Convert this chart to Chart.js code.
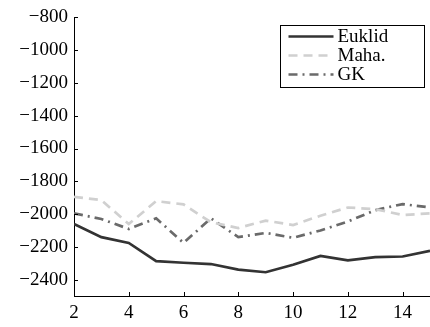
<!DOCTYPE html>
<html>
<head>
<meta charset="utf-8">
<script src="https://cdn.jsdelivr.net/npm/chart.js@4"></script>
<style>
  html, body { margin: 0; padding: 0; background: #fff; }
  #wrap { width: 430px; height: 327px; }
</style>
</head>
<body>
<div id="wrap"><canvas id="chart" width="430" height="327"></canvas></div>
<script>
// data
const xWerte = [2, 3, 4, 5, 6, 7, 8, 9, 10, 11, 12, 13, 14, 15];
const euklid = [-2061, -2141, -2176, -2287, -2297, -2305, -2339, -2355, -2309, -2255, -2283, -2263, -2259, -2224];
const maha = [-1895, -1915, -2061, -1921, -1941, -2050, -2085, -2040, -2067, -2010, -1960, -1970, -2006, -1996];
const gk = [-1996, -2030, -2091, -2026, -2176, -2026, -2141, -2115, -2145, -2100, -2046, -1976, -1939, -1960];
const yTicks = [-2400, -2200, -2000, -1800, -1600, -1400, -1200, -1000, -800];
const xTicks = [2, 4, 6, 8, 10, 12, 14];

const schrift = "'Liberation Serif', 'DejaVu Serif', serif";

function punkte(werte) {
  return werte.map((v, i) => ({ x: xWerte[i], y: v }));
}

// ticks pointing inwards + legend box inside the plot
const achsenPlugin = {
  id: 'achsen',
  afterDraw(chart) {
    const ctx = chart.ctx;
    const xs = chart.scales.x, ys = chart.scales.y;
    const a = chart.chartArea;
    ctx.save();
    ctx.strokeStyle = '#000';
    ctx.lineWidth = 1;
    ctx.beginPath();
    yTicks.forEach(t => {
      const y = Math.round(ys.getPixelForValue(t)) + 0.5;
      ctx.moveTo(a.left, y); ctx.lineTo(a.left + 4, y);
    });
    xTicks.forEach(t => {
      const x = Math.round(xs.getPixelForValue(t)) + 0.5;
      ctx.moveTo(x, a.bottom); ctx.lineTo(x, a.bottom - 4);
    });
    ctx.stroke();

    // legend
    const bx = 280.5, by = 25.5, bw = 144, bh = 62;
    ctx.fillStyle = '#fff';
    ctx.fillRect(bx, by, bw, bh);
    ctx.strokeRect(bx, by, bw, bh);
    ctx.font = '19px ' + schrift;
    ctx.textBaseline = 'middle';
    chart.data.datasets.forEach((ds, i) => {
      const y = by + 11 + i * 19;
      ctx.strokeStyle = ds.borderColor;
      ctx.lineWidth = ds.borderWidth;
      ctx.setLineDash(ds.borderDash || []);
      ctx.beginPath();
      ctx.moveTo(bx + 8, y); ctx.lineTo(bx + 53, y);
      ctx.stroke();
      ctx.setLineDash([]);
      ctx.fillStyle = '#000';
      ctx.fillText(ds.label, bx + 57, y + 1);
    });
    ctx.restore();
  }
};

new Chart(document.getElementById('chart'), {
  type: 'line',
  data: {
    datasets: [
      { label: 'Euklid', data: punkte(euklid), borderColor: '#333333', borderWidth: 2.7, pointRadius: 0, tension: 0 },
      { label: 'Maha.', data: punkte(maha), borderColor: '#d0d0d0', borderWidth: 2.7, borderDash: [9, 6], pointRadius: 0, tension: 0 },
      { label: 'GK', data: punkte(gk), borderColor: '#6a6a6a', borderWidth: 2.7, borderDash: [9, 5, 2, 5], pointRadius: 0, tension: 0 }
    ]
  },
  options: {
    responsive: false,
    animation: false,
    layout: { padding: { top: 17, right: 0, left: 0, bottom: 0 } },
    plugins: { legend: { display: false }, tooltip: { enabled: false } },
    scales: {
      x: {
        type: 'linear', min: 2, max: 15,
        afterFit: s => { s.height = 31; },
        afterBuildTicks: s => { s.ticks = xTicks.map(v => ({ value: v })); },
        grid: { display: false, drawTicks: false },
        border: { display: true, color: '#000', width: 1 },
        ticks: { color: '#000', padding: 6, maxRotation: 0, font: { family: schrift, size: 19 } }
      },
      y: {
        min: -2500, max: -800,
        afterFit: s => { s.width = 74; },
        afterBuildTicks: s => { s.ticks = yTicks.map(v => ({ value: v })); },
        grid: { display: false, drawTicks: false },
        border: { display: true, color: '#000', width: 1 },
        ticks: {
          color: '#000', padding: 6, font: { family: schrift, size: 19 },
          callback: v => String(v).replace('-', '\u2212')
        }
      }
    }
  },
  plugins: [achsenPlugin]
});
</script>
</body>
</html>
